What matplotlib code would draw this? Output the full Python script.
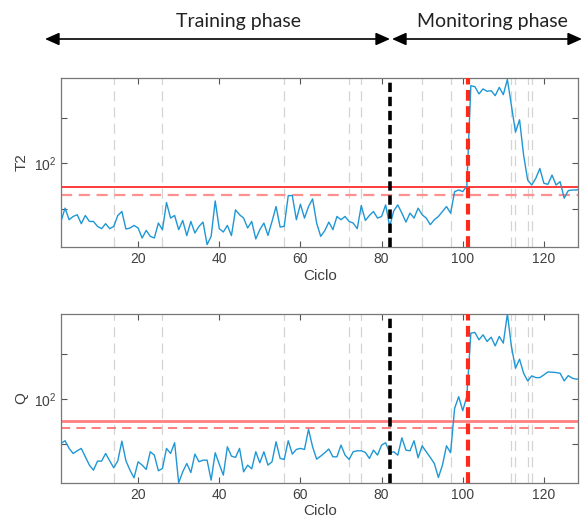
import numpy as np
import matplotlib.pyplot as plt
from matplotlib.patches import FancyArrowPatch, ArrowStyle

plt.rcParams["font.family"] = ["Liberation Sans", "DejaVu Sans"]
plt.rcParams["mathtext.fontset"] = "custom"
plt.rcParams["mathtext.rm"] = "Liberation Sans"
plt.rcParams["mathtext.it"] = "Liberation Sans:italic"

# values (log10 of the statistic), cycles 1..129
t2_log10 = [
    1.358, 1.505, 1.377, 1.413, 1.432, 1.333, 1.424, 1.358, 1.358, 1.303,
    1.278, 1.333, 1.278, 1.303, 1.424, 1.468, 1.274, 1.285, 1.314, 1.285,
    1.175, 1.259, 1.193, 1.175, 1.340, 1.267, 1.567, 1.395, 1.424, 1.267,
    1.369, 1.201, 1.358, 1.230, 1.303, 1.351, 1.102, 1.193, 1.585, 1.278,
    1.241, 1.314, 1.201, 1.486, 1.432, 1.395, 1.285, 1.358, 1.164, 1.267,
    1.340, 1.204, 1.358, 1.523, 1.296, 1.303, 1.644, 1.644, 1.377, 1.549,
    1.395, 1.523, 1.607, 1.340, 1.193, 1.256, 1.351, 1.267, 1.413, 1.377,
    1.413, 1.358, 1.340, 1.278, 1.534, 1.369, 1.424, 1.468, 1.395, 1.413,
    1.541, 1.303, 1.475, 1.541, 1.450, 1.351, 1.450, 1.395, 1.505, 1.432,
    1.395, 1.322, 1.377, 1.413, 1.468, 1.523, 1.450, 1.688, 1.706, 1.688,
    1.750, 2.860, 2.849, 2.769, 2.824, 2.798, 2.805, 2.750, 2.842, 2.761,
    2.930, 2.640, 2.347, 2.483, 2.091, 1.816, 1.761, 1.835, 1.944, 1.780,
    1.769, 1.871, 1.761, 1.798, 1.615, 1.699, 1.706, 1.706, 1.717]

q_log10 = [
    1.511, 1.540, 1.455, 1.399, 1.429, 1.455, 1.362, 1.270, 1.214, 1.314,
    1.314, 1.399, 1.318, 1.240, 1.318, 1.536, 1.318, 1.214, 1.129, 1.307,
    1.270, 1.222, 1.418, 1.381, 1.207, 1.233, 1.455, 1.399, 1.518, 1.073,
    1.196, 1.288, 1.188, 1.392, 1.307, 1.325, 1.325, 1.103, 1.407, 1.281,
    1.159, 1.473, 1.370, 1.355, 1.455, 1.196, 1.270, 1.229, 1.418, 1.296,
    1.418, 1.270, 1.307, 1.529, 1.344, 1.333, 1.540, 1.392, 1.444, 1.455,
    1.444, 1.666, 1.473, 1.336, 1.370, 1.407, 1.448, 1.362, 1.362, 1.492,
    1.381, 1.333, 1.418, 1.429, 1.429, 1.411, 1.344, 1.436, 1.381, 1.492,
    1.518, 1.407, 1.418, 1.380, 1.573, 1.436, 1.429, 1.540, 1.351, 1.484,
    1.418, 1.355, 1.288, 1.133, 1.270, 1.484, 1.407, 1.899, 2.029, 1.873,
    2.029, 2.733, 2.740, 2.659, 2.714, 2.640, 2.688, 2.592, 2.696, 2.622,
    2.947, 2.584, 2.344, 2.444, 2.288, 2.203, 2.259, 2.240, 2.240, 2.270,
    2.303, 2.299, 2.296, 2.288, 2.203, 2.262, 2.233, 2.222, 2.229]

cycles = np.arange(1, len(t2_log10) + 1)

t2_lim = 55.3       # solid limit
t2_lim_warn = 44.9  # dashed limit
q_lim = 57.8
q_lim_warn = 47.6

event_cycles = [14, 26, 56, 72, 75, 90, 97, 112, 113, 116, 117]
train_end = 82
fault_start = 101.3

fig = plt.figure(figsize=(5.82, 5.24), dpi=100)
ax1 = fig.add_axes([0.1048, 0.5286, 0.8890, 0.3225])
ax2 = fig.add_axes([0.1048, 0.0788, 0.8890, 0.3220])

panels = [
    (ax1, t2_log10, "T2", t2_lim, t2_lim_warn, ("#ff1a1a", 1.2, "-"), ("#ff9090", 1.6, (0, (5, 3)))),
    (ax2, q_log10, "Q", q_lim, q_lim_warn, ("#ff8080", 2.0, "-"), ("#ff5a5a", 1.1, (0, (6, 4)))),
]

for ax, vals, name, lim, warn, solid, dashed in panels:
    for c in event_cycles:
        ax.axvline(c, color="#d4d4d4", lw=0.9, ls=(0, (8, 5)), zorder=1)
    ax.plot(cycles, 10 ** np.array(vals), color="#1f97d4", lw=1.0, zorder=3)
    ax.axhline(lim, color=solid[0], lw=solid[1], ls=solid[2], zorder=2)
    ax.axhline(warn, color=dashed[0], lw=dashed[1], ls=dashed[2], zorder=2)
    ax.axvline(train_end, color="black", lw=2.6, ls=(0, (2.6, 1.3)), zorder=4)
    ax.axvline(fault_start, color="#ff2a1a", lw=3.0, ls=(0, (2.6, 1.3)), zorder=4)

    ax.set_yscale("log")
    ax.set_xlim(1, 128.5)
    ax.set_ylim(10 ** 1.075, 10 ** 2.945)
    ax.set_xticks([20, 40, 60, 80, 100, 120])
    ax.set_yticks([10 ** 1.5, 100, 10 ** 2.5], labels=["", "$10^2$", ""])
    ax.minorticks_off()
    ax.tick_params(direction="in", length=4, width=0.8, top=True, right=True,
                   colors="#555555", labelcolor="#404040", labelsize=10)
    for sp in ax.spines.values():
        sp.set_color("#777777")
        sp.set_linewidth(0.9)
    ax.set_xlabel("Ciclo", fontsize=11, color="#404040", labelpad=2)
    ax.set_ylabel(name, fontsize=11, color="#404040", labelpad=4)

# phase arrows at the top
style = ArrowStyle("<|-|>", head_length=8.5, head_width=3.8)
y_arrow = 1 - 39 / 524
fig.add_artist(FancyArrowPatch((45 / 582, y_arrow), (390 / 582, y_arrow), transform=fig.transFigure,
                               arrowstyle=style, mutation_scale=1, lw=1.2, color="black",
                               shrinkA=0, shrinkB=0))
fig.add_artist(FancyArrowPatch((392 / 582, y_arrow), (582 / 582, y_arrow), transform=fig.transFigure,
                               arrowstyle=style, mutation_scale=1, lw=1.2, color="black",
                               shrinkA=0, shrinkB=0))
fig.text(239 / 582, 1 - 27 / 524, "Training phase", ha="center", va="baseline",
         fontsize=14, family="Lato", color="#222222")
fig.text(492 / 582, 1 - 27 / 524, "Monitoring phase", ha="center", va="baseline",
         fontsize=14, family="Lato", color="#222222")

fig.savefig("out.png", dpi=100)
